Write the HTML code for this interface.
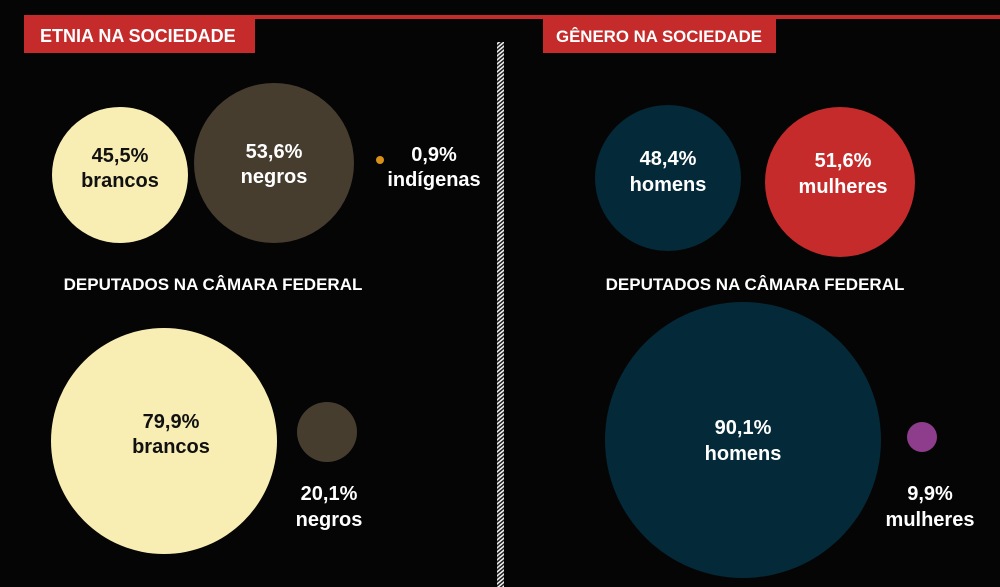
<!DOCTYPE html>
<html><head><meta charset="utf-8"><style>
html,body{margin:0;padding:0;background:#050505;}
svg{display:block}
text{font-family:"Liberation Sans",sans-serif;font-weight:bold;}
</style></head><body>
<svg width="1000" height="587" viewBox="0 0 1000 587">
<defs>
<pattern id="hatch" width="6" height="4" patternUnits="userSpaceOnUse" patternTransform="skewY(-40)">
<rect width="6" height="4" fill="#222"/><rect width="6" height="2" fill="#eee"/>
</pattern>
</defs>
<rect width="1000" height="587" fill="#050505"/>
<rect x="24" y="15" width="976" height="4" fill="#c42b2a"/>
<rect x="24" y="16" width="231" height="37" fill="#c42b2a"/>
<rect x="543" y="16" width="233" height="37" fill="#c42b2a"/>
<text x="40" y="42" fill="#fff" font-size="18">ETNIA  NA SOCIEDADE</text>
<text x="556" y="42" fill="#fff" font-size="17" textLength="206" lengthAdjust="spacingAndGlyphs">GÊNERO NA SOCIEDADE</text>
<rect x="497" y="42" width="7" height="545" fill="url(#hatch)"/>

<circle cx="120" cy="175" r="68" fill="#f8eeb4"/>
<text x="120" y="162" text-anchor="middle" font-size="20" fill="#111">45,5%</text>
<text x="120" y="187" text-anchor="middle" font-size="20" fill="#111">brancos</text>
<circle cx="274" cy="163" r="80" fill="#463d2f"/>
<text x="274" y="158" text-anchor="middle" font-size="20" fill="#fff">53,6%</text>
<text x="274" y="183" text-anchor="middle" font-size="20" fill="#fff">negros</text>
<circle cx="380" cy="160" r="4" fill="#d9901a"/>
<text x="434" y="161" text-anchor="middle" font-size="20" fill="#fff">0,9%</text>
<text x="434" y="186" text-anchor="middle" font-size="20" fill="#fff">indígenas</text>

<text x="213" y="290" text-anchor="middle" font-size="17" fill="#fff">DEPUTADOS NA CÂMARA FEDERAL</text>
<circle cx="164" cy="441" r="113" fill="#f8eeb4"/>
<text x="171" y="428" text-anchor="middle" font-size="20" fill="#111">79,9%</text>
<text x="171" y="453" text-anchor="middle" font-size="20" fill="#111">brancos</text>
<circle cx="327" cy="432" r="30" fill="#463d2f"/>
<text x="329" y="500" text-anchor="middle" font-size="20" fill="#fff">20,1%</text>
<text x="329" y="526" text-anchor="middle" font-size="20" fill="#fff">negros</text>

<circle cx="668" cy="178" r="73" fill="#042938"/>
<text x="668" y="165" text-anchor="middle" font-size="20" fill="#fff">48,4%</text>
<text x="668" y="191" text-anchor="middle" font-size="20" fill="#fff">homens</text>
<circle cx="840" cy="182" r="75" fill="#c42b2a"/>
<text x="843" y="167" text-anchor="middle" font-size="20" fill="#fff">51,6%</text>
<text x="843" y="193" text-anchor="middle" font-size="20" fill="#fff">mulheres</text>

<text x="755" y="290" text-anchor="middle" font-size="17" fill="#fff">DEPUTADOS NA CÂMARA FEDERAL</text>
<circle cx="743" cy="440" r="138" fill="#042938"/>
<text x="743" y="434" text-anchor="middle" font-size="20" fill="#fff">90,1%</text>
<text x="743" y="460" text-anchor="middle" font-size="20" fill="#fff">homens</text>
<circle cx="922" cy="437" r="15" fill="#8e3c8c"/>
<text x="930" y="500" text-anchor="middle" font-size="20" fill="#fff">9,9%</text>
<text x="930" y="526" text-anchor="middle" font-size="20" fill="#fff">mulheres</text>
</svg>
</body></html>
